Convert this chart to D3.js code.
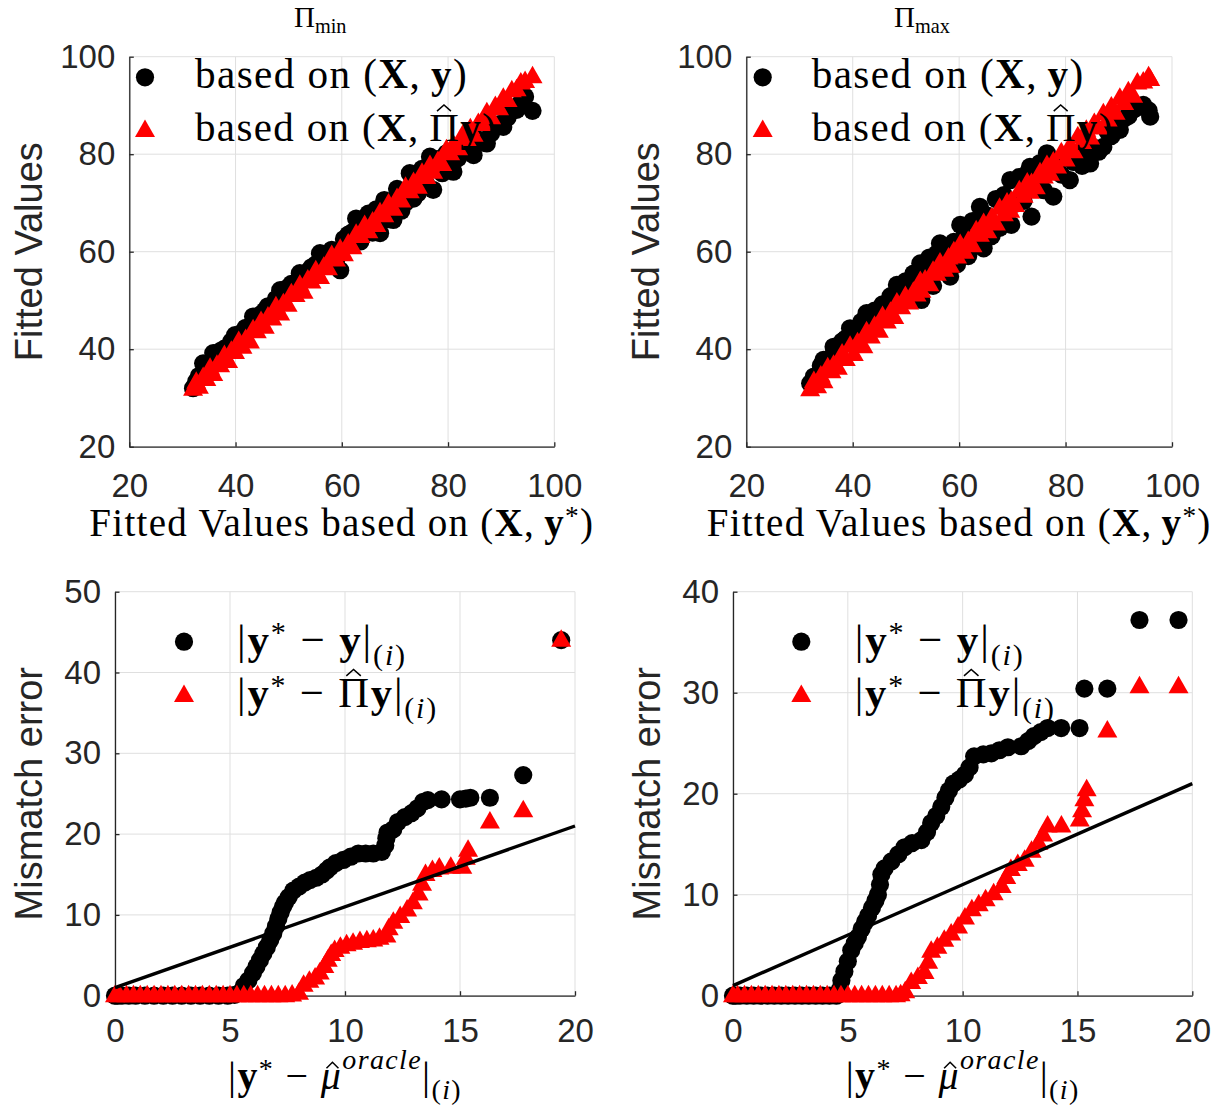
<!DOCTYPE html>
<html><head><meta charset="utf-8">
<script src="https://cdn.jsdelivr.net/npm/d3@7"></script>
<style>html,body{margin:0;padding:0;background:#fff;} svg{display:block;}</style>
</head><body>
<svg id="chart" width="1221" height="1107"></svg>
<script>
// ---------------- DATA ----------------
const topTicks = [20, 40, 60, 80, 100];
const botXTicks = [0, 5, 10, 15, 20];
const blYTicks = [0, 10, 20, 30, 40, 50];
const brYTicks = [0, 10, 20, 30, 40];
const titleSubs = ["min", "max"];
const topYLabel = "Fitted Values";
const botYLabel = "Mismatch error";

// top-left (Pi_min): shared x, black (X,y) and red (X,Pi y) fitted values
const tlX = [
32.0, 32.6, 33.1, 33.9, 34.5, 35.2, 35.8, 36.5, 37.1, 37.9,
38.6, 39.2, 39.9, 40.6, 41.3, 41.9, 42.7, 43.3, 44.0, 44.8,
45.5, 46.1, 46.9, 47.6, 48.4, 49.0, 49.8, 50.5, 51.3, 52.1,
52.8, 53.6, 54.3, 55.1, 55.9, 56.6, 57.4, 58.1, 58.9, 59.7,
60.4, 61.2, 62.0, 62.7, 63.5, 64.3, 65.0, 65.8, 66.5, 67.2,
68.0, 68.8, 69.7, 70.4, 71.2, 72.0, 72.8, 73.5, 74.3, 75.1,
75.9, 76.6, 77.2, 78.1, 78.9, 79.7, 80.4, 81.0, 81.9, 82.7,
83.5, 84.2, 84.8, 85.7, 86.5, 87.3, 88.1, 88.9, 89.6, 90.4,
91.2, 92.0, 92.9, 93.7, 94.5, 95.9];
const tlBlackY = [
32.0, 33.4, 34.5, 37.1, 36.0, 37.3, 39.2, 37.8, 39.6, 40.1,
40.5, 41.6, 42.9, 41.9, 43.5, 44.4, 44.1, 46.7, 46.0, 47.2,
47.9, 48.8, 48.4, 50.3, 52.1, 51.0, 52.6, 53.4, 52.9, 55.6,
54.6, 55.9, 56.8, 57.4, 59.7, 58.1, 59.6, 60.4, 58.0, 56.2,
62.6, 63.5, 64.0, 66.8, 62.1, 66.5, 67.8, 63.9, 68.7, 63.8,
70.6, 66.7, 66.5, 72.9, 68.4, 70.1, 76.1, 70.9, 72.0, 77.0,
73.9, 79.5, 72.7, 79.0, 76.1, 80.2, 77.4, 76.4, 79.2, 80.9,
81.0, 82.6, 79.8, 83.0, 82.4, 82.2, 84.3, 85.5, 86.2, 85.6,
87.5, 89.0, 89.1, 90.6, 91.8, 88.9];
const tlRedY = [
31.8, 33.2, 32.2, 34.2, 33.8, 36.1, 34.8, 36.7, 36.6, 38.7,
37.5, 39.6, 39.3, 41.6, 40.4, 42.0, 41.5, 44.0, 43.6, 45.7,
44.5, 46.6, 46.2, 48.7, 47.2, 49.3, 49.0, 51.4, 51.0, 53.1,
51.7, 54.2, 53.8, 56.1, 54.7, 56.8, 56.5, 59.2, 58.3, 60.5,
59.4, 61.6, 60.8, 63.6, 63.1, 65.4, 64.1, 66.1, 65.4, 68.0,
67.4, 69.8, 68.7, 70.9, 70.4, 73.2, 72.3, 74.2, 73.2, 76.1,
75.2, 77.7, 76.3, 78.5, 77.9, 80.9, 80.1, 81.9, 81.1, 83.8,
83.0, 85.2, 83.9, 86.3, 86.1, 88.5, 87.5, 89.8, 89.3, 91.5,
91.0, 93.0, 93.2, 94.6, 94.9, 95.9];

// top-right (Pi_max)
const trX = [
32.0, 32.7, 33.3, 34.0, 34.5, 35.3, 36.0, 36.4, 37.2, 38.0,
38.7, 39.5, 40.2, 40.9, 41.6, 42.0, 42.6, 43.4, 44.1, 44.9,
45.6, 46.4, 47.1, 47.8, 48.3, 49.1, 49.9, 50.6, 51.4, 52.0,
52.7, 52.9, 53.6, 54.4, 55.1, 55.8, 56.4, 57.2, 58.0, 58.3,
59.0, 59.6, 60.2, 61.0, 61.7, 62.5, 63.2, 63.9, 64.6, 65.3,
66.1, 66.9, 67.6, 68.4, 69.0, 69.6, 69.8, 70.5, 71.3, 72.1,
72.8, 73.3, 73.6, 74.4, 75.2, 75.9, 76.5, 77.1, 77.7, 78.4,
79.2, 80.0, 80.8, 81.5, 82.3, 83.1, 83.9, 84.6, 85.4, 86.2,
87.1, 87.9, 88.6, 89.4, 90.2, 91.0, 91.8, 92.7, 93.5, 94.6, 95.6, 95.9];
const trBlackY = [
33.0, 34.4, 33.9, 36.6, 37.8, 36.1, 38.4, 40.5, 39.3, 41.6,
42.2, 44.3, 42.8, 43.5, 45.6, 44.1, 47.4, 46.0, 47.9, 46.8,
49.2, 48.6, 50.9, 49.5, 53.2, 51.8, 53.9, 52.1, 55.5, 54.0,
57.6, 50.1, 56.4, 58.8, 53.0, 59.6, 61.7, 58.0, 60.9, 54.9,
62.0, 57.4, 65.5, 63.2, 59.1, 66.3, 62.8, 69.2, 60.7, 67.4,
63.2, 70.8, 64.9, 71.6, 68.1, 74.7, 65.5, 69.8, 75.3, 70.4,
76.0, 77.4, 67.2, 73.0, 78.2, 72.6, 80.2, 76.5, 71.3, 77.9,
75.8, 79.6, 74.7, 78.4, 80.1, 77.6, 80.4, 78.1, 81.3, 80.5,
81.5, 84.6, 83.7, 86.1, 85.0, 87.3, 87.8, 89.1, 89.6, 90.1, 89.0, 87.7];
const trRedY = [
31.7, 33.4, 32.3, 34.5, 33.3, 36.2, 35.4, 36.7, 36.1, 39.0,
37.9, 40.6, 38.9, 41.3, 40.9, 40.5, 43.6, 42.5, 44.7, 43.7,
46.7, 45.6, 47.6, 46.5, 49.5, 48.5, 50.8, 49.5, 51.7, 51.1,
53.9, 51.9, 54.2, 53.2, 56.0, 55.4, 57.7, 56.2, 58.7, 57.0,
60.0, 58.9, 61.5, 59.9, 62.1, 61.2, 64.3, 63.4, 65.8, 64.1,
66.9, 65.7, 68.9, 67.6, 70.0, 68.3, 70.3, 69.5, 72.5, 71.4,
74.1, 72.2, 74.0, 73.1, 76.2, 75.3, 77.7, 75.9, 78.4, 77.4,
80.3, 78.8, 81.6, 80.5, 83.6, 82.4, 84.9, 83.3, 86.3, 85.4,
88.3, 87.0, 89.7, 88.4, 91.5, 90.4, 92.8, 91.9, 94.6, 94.8, 95.9, 95.3];

// bottom-left (Pi_min) mismatch errors, sorted
const blBlackX = [
0, 0.1, 0.3, 0.6, 0.9, 1.3, 1.7, 2.1, 2.5, 2.9,
3.3, 3.7, 4.1, 4.5, 4.9, 5.2, 5.45, 5.6, 5.8, 6.0,
6.15, 6.3, 6.45, 6.6, 6.75, 6.88, 7.0, 7.1, 7.2, 7.3,
7.39, 7.55, 7.75, 8.0, 8.25, 8.48, 8.75, 9.0, 9.2, 9.35,
9.6, 9.93, 10.25, 10.58, 10.9, 11.23, 11.6, 11.75, 11.8, 11.85,
12.1, 12.3, 12.6, 12.9, 13.15, 13.4, 13.6, 14.2, 15.0, 15.25,
15.45, 16.3, 17.75, 19.4];
const blBlackY = [
0, 0, 0, 0, 0, 0, 0, 0, 0, 0,
0, 0, 0, 0, 0, 0.1, 0.4, 1.2, 1.9, 2.8,
3.6, 4.4, 5.2, 6.0, 6.9, 7.7, 8.6, 9.5, 10.3, 11.0,
11.5, 12.2, 13.0, 13.5, 14.0, 14.3, 14.6, 15.0, 15.5, 15.9,
16.4, 16.8, 17.2, 17.6, 17.6, 17.6, 17.8, 18.6, 19.5, 20.2,
20.6, 21.5, 22.1, 22.6, 23.2, 24.0, 24.2, 24.3, 24.3, 24.4,
24.5, 24.5, 27.3, 44.0];
const blRedX = [
0, 0.2, 0.5, 0.8, 1.1, 1.4, 1.7, 2.0, 2.3, 2.6,
2.9, 3.2, 3.5, 3.8, 4.1, 4.4, 4.7, 5.0, 5.3, 5.6,
5.9, 6.2, 6.5, 6.8, 7.1, 7.4, 7.7, 8.0, 8.2, 8.45,
8.7, 8.9, 9.1, 9.25, 9.4, 9.55, 9.8, 10.07, 10.35, 10.65,
10.95, 11.23, 11.5, 11.8, 11.9, 12.1, 12.4, 12.7, 12.95, 13.2,
13.35, 13.5, 13.8, 14.1, 14.6, 15.1, 15.25, 15.35, 16.3, 17.75,
19.4];
const blRedY = [
0, 0, 0, 0, 0, 0, 0, 0, 0, 0,
0, 0, 0, 0, 0, 0, 0, 0, 0, 0,
0, 0, 0, 0, 0, 0, 0.1, 0.3, 1.3, 1.8,
2.2, 2.8, 3.6, 4.4, 5.1, 5.6, 6.0, 6.3, 6.5, 6.7,
6.8, 6.9, 7.1, 7.4, 8.3, 9.1, 9.8, 10.6, 11.5, 12.6,
13.8, 15.0, 15.5, 15.8, 15.9, 15.9, 17.0, 18.0, 21.5, 22.9,
44.0];

// bottom-right (Pi_max)
const brBlackX = [
0, 0.1, 0.3, 0.6, 0.9, 1.2, 1.5, 1.8, 2.1, 2.4,
2.7, 3.0, 3.3, 3.6, 3.9, 4.2, 4.5, 4.65, 4.72, 4.85,
5.0, 5.15, 5.3, 5.44, 5.6, 5.75, 5.88, 6.05, 6.2, 6.31,
6.4, 6.46, 6.6, 6.9, 7.2, 7.47, 7.8, 8.2, 8.45, 8.63,
8.85, 9.07, 9.25, 9.4, 9.6, 9.85, 10.1, 10.3, 10.5, 10.9,
11.25, 11.6, 11.97, 12.55, 12.85, 13.1, 13.4, 13.7, 14.29, 15.09,
15.3, 16.3, 17.7, 19.4];
const brBlackY = [
0, 0, 0, 0, 0, 0, 0, 0, 0, 0,
0, 0, 0, 0, 0, 0, 0, 0.6, 1.5, 2.4,
3.4, 4.5, 5.2, 5.8, 6.6, 7.3, 7.9, 8.7, 9.4, 10.0,
11.0, 12.0, 12.6, 13.3, 14.0, 14.7, 15.1, 15.4, 16.2, 17.1,
17.8, 18.7, 19.6, 20.3, 21.0, 21.4, 21.9, 22.6, 23.7, 23.9,
24.0, 24.3, 24.6, 24.7, 25.2, 25.7, 26.1, 26.5, 26.5, 26.5,
30.4, 30.4, 37.2, 37.2];
const brRedX = [
0, 0.2, 0.5, 0.8, 1.1, 1.4, 1.7, 2.0, 2.3, 2.6,
2.9, 3.2, 3.5, 3.8, 4.1, 4.4, 4.7, 5.0, 5.3, 5.6,
5.9, 6.2, 6.5, 6.8, 7.1, 7.3, 7.5, 7.76, 8.05, 8.34,
8.5, 8.63, 8.9, 9.2, 9.5, 9.8, 10.1, 10.4, 10.7, 11.0,
11.35, 11.7, 11.9, 12.1, 12.4, 12.7, 13.0, 13.3, 13.5, 13.7,
14.3, 15.1, 15.2, 15.3, 15.4, 16.3, 17.7, 19.4];
const brRedY = [
0, 0, 0, 0, 0, 0, 0, 0, 0, 0,
0, 0, 0, 0, 0, 0, 0, 0, 0, 0,
0, 0, 0, 0, 0, 0.1, 0.4, 1.3, 1.8, 2.3,
3.3, 4.4, 4.8, 5.5, 6.1, 6.8, 7.7, 8.5, 9.0, 9.5,
10.1, 10.8, 11.7, 12.5, 13.0, 13.4, 14.3, 15.1, 15.9, 16.8,
16.8, 17.4, 18.3, 19.4, 20.4, 26.2, 30.6, 30.6];

// reference line in bottom panels
const refLineX = [0, 20];
const refLineY = [1, 21];

// ---------------- STYLE / LAYOUT ----------------
const svg = d3.select('#chart');
const SERIF = "'Liberation Serif','Times New Roman',serif";
const SANS = "'Liberation Sans',Arial,Helvetica,sans-serif";
const AX = '#262626', GRID = '#dfdfdf';
const TICK_FS = 33, YLAB_FS = 38, XLAB_FS = 36, LEG_FS = 38, TITLE_FS = 29;
const R = 9.1;
const TRI = 'M0,-11L10,6.5L-10,6.5Z';

function buildMath(parent, o, fs) {
  const t = parent.append('text').attr('x', o.x).attr('y', o.y)
    .attr('font-family', SERIF).attr('font-size', fs).attr('fill', '#000');
  let cur = 0, ci = 0;
  const hats = [];
  o.segs.forEach(s => {
    let off = 0;
    if (s.sup) off = -(s.raise != null ? s.raise : 0.42) * fs;
    if (s.sub) off = (s.drop != null ? s.drop : 0.25) * fs;
    const ts = t.append('tspan').attr('dy', (off - cur).toFixed(2)).text(s.t);
    cur = off;
    if (s.sup || s.sub) ts.attr('font-size', fs * 0.7);
    if (s.bf) ts.attr('font-weight', 'bold');
    if (s.it) ts.attr('font-style', 'italic');
    if (s.hat) hats.push({ idx: ci, off, s });
    ci += s.t.length;
  });
  return { t, hats };
}

function mathText(parent, o) {
  let fs = o.size;
  let b = buildMath(parent, o, fs);
  let w = b.t.node().getComputedTextLength();
  if (o.width) {
    // compromise: grow/shrink the font part of the way, letter-spacing for the rest
    fs = fs * Math.sqrt(o.width / w);
    b.t.remove();
    b = buildMath(parent, o, fs);
    w = b.t.node().getComputedTextLength();
  }
  const t = b.t, node = t.node();
  const n = node.getNumberOfChars();
  let ls = 0;
  if (o.width) { ls = (o.width - w) / n; t.attr('letter-spacing', ls.toFixed(3)); }
  const total = o.width ? o.width : w;
  if (o.anchor === 'middle') t.attr('x', o.x - total / 2);
  b.hats.forEach(h => {
    let cx;
    try {
      const e = node.getExtentOfChar(h.idx);
      cx = e.x + (e.width - ls) / 2;
    } catch (err) { cx = o.x; }
    cx += (h.s.hatShift || 0) * fs;
    const base = o.y + h.off;
    const top = base - (h.s.hatH || 0.66) * fs - 0.07 * fs;
    const hw = (h.s.hatW || 0.34) * fs / 2, hh = 0.15 * fs;
    parent.append('path')
      .attr('d', `M${cx - hw},${top}L${cx},${top - hh}L${cx + hw},${top}`)
      .attr('fill', 'none').attr('stroke', '#000').attr('stroke-width', 1.5);
  });
  return t;
}

function drawPanel(p) {
  const g = svg.append('g');
  const x = d3.scaleLinear().domain(p.xd).range(p.px);
  const y = d3.scaleLinear().domain(p.yd).range(p.py);
  // grid
  g.append('g').selectAll('line').data(p.xt).join('line')
    .attr('x1', d => x(d)).attr('x2', d => x(d)).attr('y1', p.py[0]).attr('y2', p.py[1])
    .attr('stroke', GRID).attr('stroke-width', 1);
  g.append('g').selectAll('line').data(p.yt).join('line')
    .attr('y1', d => y(d)).attr('y2', d => y(d)).attr('x1', p.px[0]).attr('x2', p.px[1])
    .attr('stroke', GRID).attr('stroke-width', 1);
  // axes
  const xa = d3.axisBottom(x).tickValues(p.xt).tickSizeInner(-4.5).tickSizeOuter(0)
    .tickPadding(p.xPad).tickFormat(d3.format('d'));
  const gx = g.append('g').attr('transform', `translate(0,${p.py[0]})`).call(xa)
    .attr('font-family', SANS).attr('font-size', TICK_FS).attr('color', AX);
  const ya = d3.axisLeft(y).tickValues(p.yt).tickSizeInner(-4.5).tickSizeOuter(0)
    .tickPadding(14).tickFormat(d3.format('d'));
  const gy = g.append('g').attr('transform', `translate(${p.px[0]},0)`).call(ya)
    .attr('font-family', SANS).attr('font-size', TICK_FS).attr('color', AX);
  [gx, gy].forEach(a => {
    a.select('.domain').attr('stroke-width', 1.3);
    a.selectAll('.tick line').attr('stroke-width', 1.3);
  });
  // y label
  g.append('text').attr('transform', `translate(${p.ylabX},${(p.py[0] + p.py[1]) / 2}) rotate(-90)`)
    .attr('text-anchor', 'middle').attr('font-family', SANS).attr('font-size', YLAB_FS)
    .attr('fill', AX).text(p.ylabel);
  // data
  const gd = g.append('g');
  gd.selectAll('circle').data(d3.range(p.bx.length)).join('circle')
    .attr('cx', i => x(p.bx[i])).attr('cy', i => y(p.by[i])).attr('r', R).attr('fill', '#000');
  gd.selectAll('path').data(d3.range(p.rx.length)).join('path')
    .attr('d', TRI).attr('fill', '#ff0000')
    .attr('transform', i => `translate(${x(p.rx[i])},${y(p.ry[i])})`);
  if (p.line) {
    g.append('path').datum(d3.range(refLineX.length))
      .attr('d', d3.line().x(i => x(refLineX[i])).y(i => y(refLineY[i])))
      .attr('stroke', '#000').attr('stroke-width', 3.4).attr('fill', 'none');
  }
  // legend
  g.append('circle').attr('cx', p.leg.mx).attr('cy', p.leg.my1).attr('r', R).attr('fill', '#000');
  g.append('path').attr('d', TRI).attr('fill', '#ff0000')
    .attr('transform', `translate(${p.leg.mx},${p.leg.my2 + 2.2})`);
  mathText(g, { x: p.leg.tx, y: p.leg.b1, size: LEG_FS, segs: p.leg.s1, width: p.leg.w1 });
  mathText(g, { x: p.leg.tx, y: p.leg.b2, size: LEG_FS, segs: p.leg.s2, width: p.leg.w2 });
  // x label
  mathText(g, { x: (p.px[0] + p.px[1]) / 2, y: p.xlabY, size: XLAB_FS, segs: p.xlab, width: p.xlabW, anchor: 'middle' });
  // title
  if (p.title) mathText(g, { x: p.title.x, y: p.title.y, size: TITLE_FS, segs: p.title.segs });
}

const topLeg1 = [{ t: 'based on (' }, { t: 'X', bf: true }, { t: ',\u2009' }, { t: 'y', bf: true }, { t: ')' }];
const topLeg2 = [{ t: 'based on (' }, { t: 'X', bf: true }, { t: ',\u2009' }, { t: '\u03A0', hat: true, hatH: 0.66 }, { t: 'y', bf: true }, { t: ')' }];
const botLeg1 = [{ t: '|' }, { t: 'y', bf: true }, { t: '*', sup: true, raise: 0.28 }, { t: ' \u2212 ' }, { t: 'y', bf: true }, { t: '|' },
  { t: '(', sub: true }, { t: 'i', sub: true, it: true }, { t: ')', sub: true }];
const botLeg2 = [{ t: '|' }, { t: 'y', bf: true }, { t: '*', sup: true, raise: 0.28 }, { t: ' \u2212 ' }, { t: '\u03A0', hat: true, hatH: 0.66 }, { t: 'y', bf: true }, { t: '|' },
  { t: '(', sub: true }, { t: 'i', sub: true, it: true }, { t: ')', sub: true }];
const topXLab = [{ t: 'Fitted Values based on (' }, { t: 'X', bf: true }, { t: ',\u2009' }, { t: 'y', bf: true }, { t: '*', sup: true, raise: 0.28 }, { t: ')' }];
const botXLab = [{ t: '|' }, { t: 'y', bf: true }, { t: '*', sup: true, raise: 0.28 }, { t: ' \u2212 ' },
  { t: '\u03BC', it: true, hat: true, hatH: 0.45, hatW: 0.3, hatShift: 0.04 }, { t: 'oracle', sup: true, raise: 0.5, it: true }, { t: '|' },
  { t: '(', sub: true }, { t: 'i', sub: true, it: true }, { t: ')', sub: true }];

const panels = [
  { px: [129.3, 554.3], py: [446.7, 56.7], xd: [20, 100], yd: [20, 100], xt: topTicks, yt: topTicks,
    xPad: 26.6, ylabX: 42, ylabel: topYLabel, bx: tlX, by: tlBlackY, rx: tlX, ry: tlRedY,
    leg: { mx: 145, my1: 77.3, my2: 128.3, tx: 195, b1: 88, b2: 141, s1: topLeg1, s2: topLeg2, w1: 273, w2: 302 },
    xlab: topXLab, xlabY: 536, xlabW: 505,
    title: { x: 294, y: 27, segs: [{ t: '\u03A0' }, { t: titleSubs[0], sub: true, drop: 0.2 }] } },
  { px: [746.3, 1172], py: [446.7, 56.7], xd: [20, 100], yd: [20, 100], xt: topTicks, yt: topTicks,
    xPad: 26.6, ylabX: 659, ylabel: topYLabel, bx: trX, by: trBlackY, rx: trX, ry: trRedY,
    leg: { mx: 762.7, my1: 77.3, my2: 128.3, tx: 811.7, b1: 88, b2: 141, s1: topLeg1, s2: topLeg2, w1: 273, w2: 302 },
    xlab: topXLab, xlabY: 536, xlabW: 505,
    title: { x: 894, y: 27, segs: [{ t: '\u03A0' }, { t: titleSubs[1], sub: true, drop: 0.2 }] } },
  { px: [115, 575], py: [995.7, 591.7], xd: [0, 20], yd: [0, 50], xt: botXTicks, yt: blYTicks,
    xPad: 22.6, ylabX: 42, ylabel: botYLabel, bx: blBlackX, by: blBlackY, rx: blRedX, ry: blRedY, line: true,
    leg: { mx: 184, my1: 641.7, my2: 693.3, tx: 237, b1: 654, b2: 707, s1: botLeg1, s2: botLeg2, w1: 170, w2: 201 },
    xlab: botXLab, xlabY: 1089, xlabW: 234 },
  { px: [733, 1192.3], py: [995.7, 591.7], xd: [0, 20], yd: [0, 40], xt: botXTicks, yt: brYTicks,
    xPad: 22.6, ylabX: 660, ylabel: botYLabel, bx: brBlackX, by: brBlackY, rx: brRedX, ry: brRedY, line: true,
    leg: { mx: 801.3, my1: 641.7, my2: 693.3, tx: 854.7, b1: 654, b2: 707, s1: botLeg1, s2: botLeg2, w1: 170, w2: 201 },
    xlab: botXLab, xlabY: 1089, xlabW: 234 }
];
panels.forEach(drawPanel);
</script>
</body></html>
